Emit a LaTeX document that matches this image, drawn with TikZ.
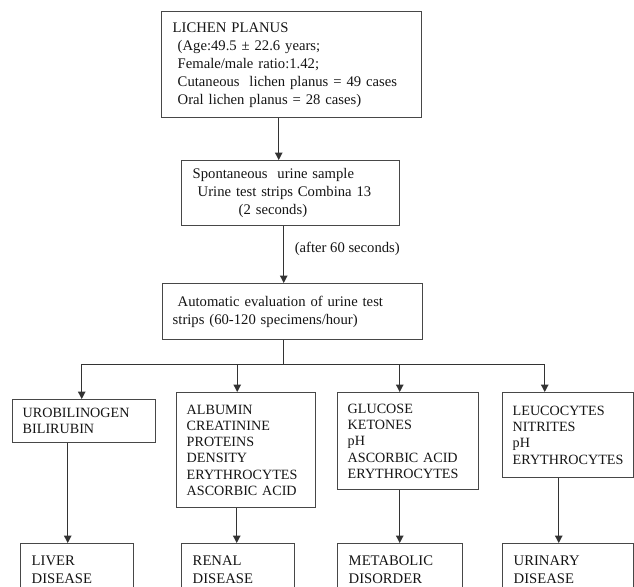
\documentclass[tikz,border=0pt]{standalone}
\usepackage{fontspec}
\setmainfont{Liberation Serif}
\usetikzlibrary{arrows.meta,calc}
\newcommand{\upx}{0.75pt}
\tikzset{
  stepbox/.style={draw=black!72, line width=1.1pt, anchor=north west, align=left, inner xsep=11*\upx, inner ysep=0pt, text=black!92, font=\fontsize{11}{13.5}\selectfont},
  testbox/.style={stepbox, inner xsep=10*\upx, font=\fontsize{10.6}{12.15}\selectfont},
  flowline/.style={draw=black!80, line width=0.85pt},
  flowarrow/.style={flowline, -{Triangle[length=5.5pt,width=5.5pt]}},
  steplabel/.style={right, xshift=4.5pt, text=black!92, font=\fontsize{11}{13.5}\selectfont}
}
\begin{document}
\begin{tikzpicture}[x=\upx, y=-\upx]
\useasboundingbox (0,0) rectangle (634,586);
\node[stepbox, text width=238*\upx, minimum height=106*\upx] (lp) at (161,11) {LICHEN PLANUS\\
\hspace*{3.75pt}(Age:49.5 ± 22.6 years;\\
\hspace*{3.75pt}Female/male ratio:1.42;\\
\hspace*{3.75pt}Cutaneous\ \ lichen planus = 49 cases\\
\hspace*{3.75pt}Oral lichen planus = 28 cases)};
\node[stepbox, text width=196*\upx, minimum height=65*\upx] (urine) at (181,160) {Spontaneous\ \ urine sample\\
\hspace*{3.75pt}Urine test strips Combina 13\\
\hspace*{34.5pt}(2 seconds)};
\node[stepbox, inner xsep=10*\upx, text width=240*\upx, minimum height=56*\upx] (auto) at (162,283) {\hspace*{3.75pt}Automatic evaluation of urine test\\ strips (60-120 specimens/hour)};
\node[testbox, text width=123*\upx, minimum height=43*\upx] (uro) at (12,399) {UROBILINOGEN\\ BILIRUBIN};
\node[testbox, text width=119*\upx, minimum height=115*\upx] (alb) at (176,392) {ALBUMIN\\ CREATININE\\ PROTEINS\\ DENSITY\\ ERYTHROCYTES\\ ASCORBIC~ACID};
\node[testbox, text width=121*\upx, minimum height=97*\upx] (glu) at (337,392) {GLUCOSE\\ KETONES\\ pH\\ ASCORBIC~ACID\\ ERYTHROCYTES};
\node[testbox, text width=111*\upx, minimum height=85*\upx] (leu) at (502,392) {LEUCOCYTES\\ NITRITES\\ pH\\ ERYTHROCYTES};
\node[stepbox, text width=91*\upx, minimum height=52*\upx] (liver) at (20,543) {LIVER\\ DISEASE};
\node[stepbox, text width=91*\upx, minimum height=52*\upx] (renal) at (181,543) {RENAL\\ DISEASE};
\node[stepbox, text width=103*\upx, minimum height=52*\upx] (metab) at (337,543) {METABOLIC\\ DISORDER};
\node[stepbox, text width=109*\upx, minimum height=52*\upx] (uri) at (502,543) {URINARY\\ DISEASE};
\coordinate (hub) at ($(auto.south)+(-9,24)$);
\draw[flowarrow] ([xshift=-13*\upx]lp.south) -- ([xshift=-12*\upx]urine.north);
\draw[flowarrow] ([xshift=-7*\upx]urine.south) -- node[pos=0.4, steplabel] {(after 60 seconds)} ([xshift=-9*\upx]auto.north);
\draw[flowline] (auto.south -| hub) -- (hub);
\draw[flowarrow] (hub) -| ([xshift=-2.5*\upx]uro.north);
\draw[flowarrow] (hub) -| ([xshift=-9*\upx]alb.north);
\draw[flowarrow] (hub) -| ([xshift=-8.5*\upx]glu.north);
\draw[flowarrow] (hub) -| ([xshift=-23.5*\upx]leu.north);
\draw[flowarrow] ([xshift=-16.5*\upx]uro.south) -- ([xshift=-9.5*\upx]liver.north);
\draw[flowarrow] ([xshift=-9.5*\upx]alb.south) -- ([xshift=-1.5*\upx]renal.north);
\draw[flowarrow] ([xshift=-8.5*\upx]glu.south) -- ([xshift=-0.5*\upx]metab.north);
\draw[flowarrow] ([xshift=-9.5*\upx]leu.south) -- ([xshift=-9.5*\upx]uri.north);
\end{tikzpicture}
\end{document}
